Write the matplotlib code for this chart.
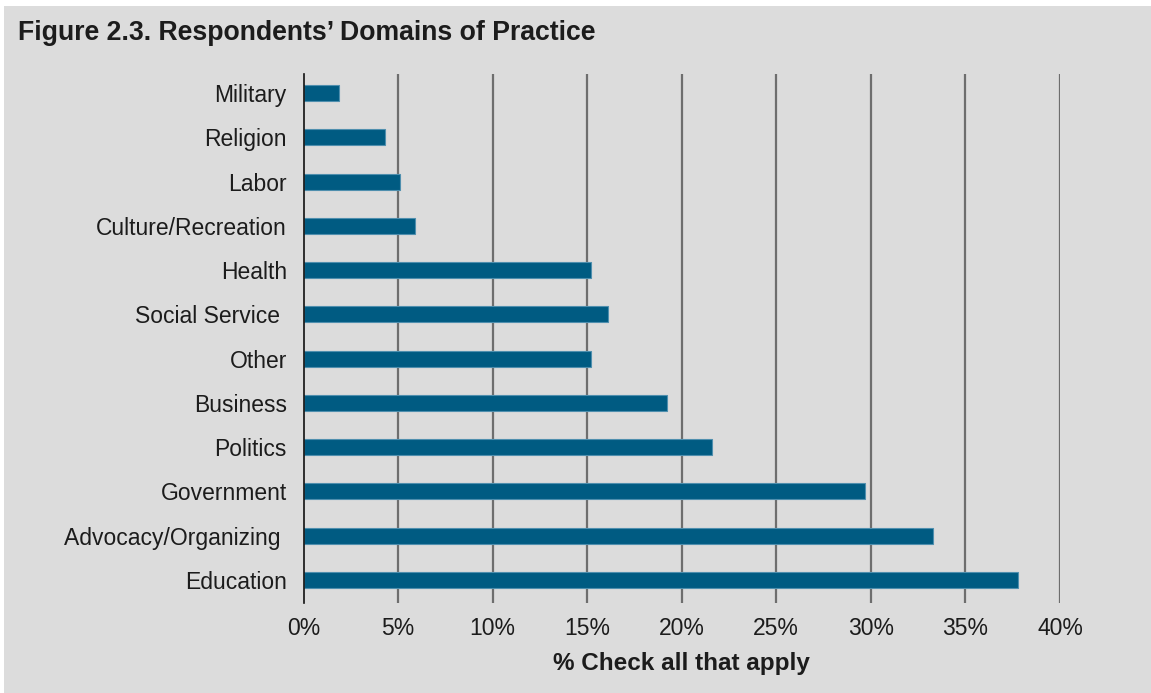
import matplotlib
matplotlib.use('Agg')
import matplotlib.pyplot as plt
import matplotlib.transforms as mtransforms
from matplotlib.patches import Rectangle
from matplotlib.ticker import FuncFormatter

# share of respondents per domain of practice, top to bottom
domains = ['Military', 'Religion', 'Labor', 'Culture/Recreation', 'Health',
           'Social Service ', 'Other', 'Business', 'Politics', 'Government',
           'Advocacy/Organizing ', 'Education']
percent = [1.9, 4.3, 5.1, 5.9, 15.2, 16.1, 15.2, 19.2, 21.6, 29.7, 33.3, 37.8]
x_ticks = [0, 5, 10, 15, 20, 25, 30, 35, 40]

plt.rcParams['font.family'] = ['Liberation Sans', 'DejaVu Sans']
panel = '#dcdcdc'
ink = '#1c1c1c'

fig = plt.figure(figsize = (11.51, 6.93), dpi = 100)
fig.patch.set_facecolor('white')
fig.patches.append(Rectangle((4/1151, 0), 1, 1 - 6/693, transform = fig.transFigure,
                             facecolor = panel, edgecolor = 'none', zorder = -10))

ax = fig.add_axes([303.5/1151, 1 - 603/693, (1060 - 303.5)/1151, (603 - 74)/693])
ax.set_facecolor(panel)

ypos = list(range(len(domains)))[::-1]
ax.barh(ypos, percent, height = 0.36, color = '#005b82',
        edgecolor = '#4f8fae', linewidth = 0.8, zorder = 3)

ax.set_xlim(0, 40)
ax.set_ylim(-0.52, len(domains) - 1 + 0.43)
ax.set_xticks(x_ticks)
ax.xaxis.set_major_formatter(FuncFormatter(lambda v, p: '{0:d}%'.format(int(v))))
ax.set_yticks(ypos)
ax.set_yticklabels(domains)

# category names sit a little above the bar centres
lift = mtransforms.ScaledTranslation(0, 4/72, fig.dpi_scale_trans)
for lab in ax.get_yticklabels():
    lab.set_transform(lab.get_transform() + lift)

for v in x_ticks[1:]:
    ax.axvline(v, color = '#6e6e6e', linewidth = 1.6, zorder = 1)

for s in ['top', 'right', 'bottom']:
    ax.spines[s].set_visible(False)
ax.spines['left'].set_color('#111111')
ax.spines['left'].set_linewidth(1.2)
ax.spines['left'].set_zorder(4)

ax.tick_params(axis = 'y', length = 0, pad = 12, labelsize = 16.5, labelcolor = ink)
ax.tick_params(axis = 'x', length = 0, pad = 10, labelsize = 16.5, labelcolor = ink)

ax.set_xlabel('% Check all that apply', fontsize = 17.5, fontweight = 'bold',
              color = ink, labelpad = 9)

fig.text(18/1151, 1 - 33/693, 'Figure 2.3. Respondents\u2019 Domains of Practice',
         fontsize = 19.2, fontweight = 'bold', color = ink, va = 'center', ha = 'left')

fig.savefig('out.png', dpi = 100, facecolor = fig.get_facecolor())
plt.close()
